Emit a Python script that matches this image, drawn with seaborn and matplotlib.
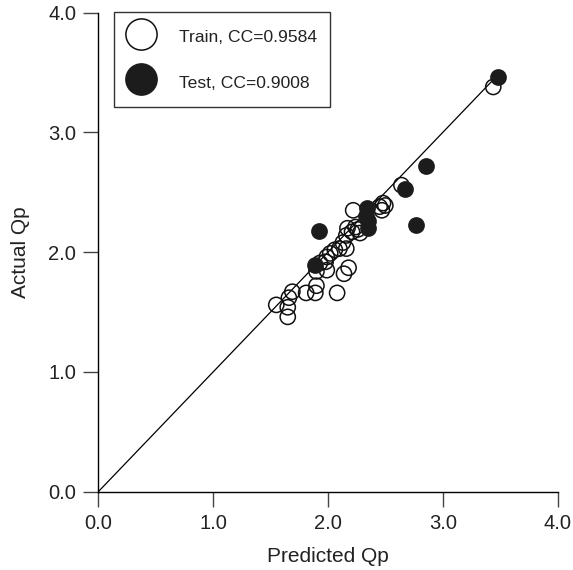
import matplotlib
matplotlib.use("Agg")
import matplotlib.pyplot as plt
import seaborn as sns
import pandas as pd

# Train points (open circles)
train_pred = [1.55, 1.66, 1.65, 1.65, 1.69, 1.81, 1.89, 1.90, 2.08, 2.14, 2.18,
              1.90, 1.99, 1.98, 1.99, 2.02, 2.06, 2.10, 2.13, 2.16, 2.16, 2.21,
              2.24, 2.28, 2.22, 2.45, 2.47, 2.48, 2.50, 2.64, 3.44, 1.93, 2.17,
              2.26]
train_act = [1.56, 1.62, 1.54, 1.46, 1.67, 1.66, 1.66, 1.72, 1.66, 1.82, 1.87,
             1.84, 1.85, 1.92, 1.96, 1.99, 2.02, 2.03, 2.08, 2.03, 2.14, 2.17,
             2.21, 2.16, 2.35, 2.38, 2.35, 2.41, 2.39, 2.56, 3.38, 1.91, 2.20,
             2.19]

# Test points (filled circles)
test_pred = [1.92, 1.89, 2.34, 2.35, 2.35, 2.67, 2.77, 2.85, 3.48, 2.33]
test_act = [2.18, 1.89, 2.37, 2.26, 2.20, 2.53, 2.23, 2.72, 3.46, 2.30]

train_label = "Train, CC=0.9584"
test_label = "Test, CC=0.9008"
diag_end = 3.45

train = pd.DataFrame({"pred": train_pred, "act": train_act})
test = pd.DataFrame({"pred": test_pred, "act": test_act})

sns.set_style("ticks")
plt.rcParams["font.family"] = ["Liberation Sans", "DejaVu Sans"]

fig = plt.figure(figsize=(5.73, 5.70), dpi=100)
ax = fig.add_axes([0.1716, 0.1374, 0.8014, 0.8403])

ax.plot([0, diag_end], [0, diag_end], color="black", linewidth=0.9, zorder=1)

sns.scatterplot(data=train, x="pred", y="act", ax=ax, s=120,
                facecolor="none", edgecolor="#111111", linewidth=1.1,
                label=train_label, zorder=2)
sns.scatterplot(data=test, x="pred", y="act", ax=ax, s=120,
                color="#1c1c1c", edgecolor="#1c1c1c", linewidth=1.1,
                label=test_label, zorder=3)

ax.set_xlim(0, 4)
ax.set_ylim(0, 4)
ticks = [0, 1, 2, 3, 4]
ax.set_xticks(ticks)
ax.set_yticks(ticks)
ax.set_xticklabels([f"{t:.1f}" for t in ticks], fontsize=14.5)
ax.set_yticklabels([f"{t:.1f}" for t in ticks], fontsize=14.5)
ax.tick_params(direction="out", length=11, width=1.0, pad=5,
               colors="#222222")
ax.tick_params(color="#444444")
ax.set_xlabel("Predicted Qp", fontsize=15, labelpad=10.5, color="#222222")
ax.set_ylabel("Actual Qp", fontsize=15, labelpad=13, color="#222222")
sns.despine(ax=ax)
for sp in ["left", "bottom"]:
    ax.spines[sp].set_linewidth(1.0)
    ax.spines[sp].set_color("black")

leg = ax.legend(loc="upper left", bbox_to_anchor=(0.034, 1.002),
                fontsize=12.6, markerscale=2.05, frameon=True, fancybox=False,
                edgecolor="black", borderpad=0.75, handletextpad=1.35,
                handlelength=1.6, handleheight=1.7, labelspacing=1.25,
                borderaxespad=0)
leg.get_frame().set_linewidth(1.0)
for t in leg.get_texts():
    t.set_color("#222222")
# open legend marker keeps a white face
leg.legend_handles[0].set_facecolor("white")

fig.savefig("out.png", dpi=100)
